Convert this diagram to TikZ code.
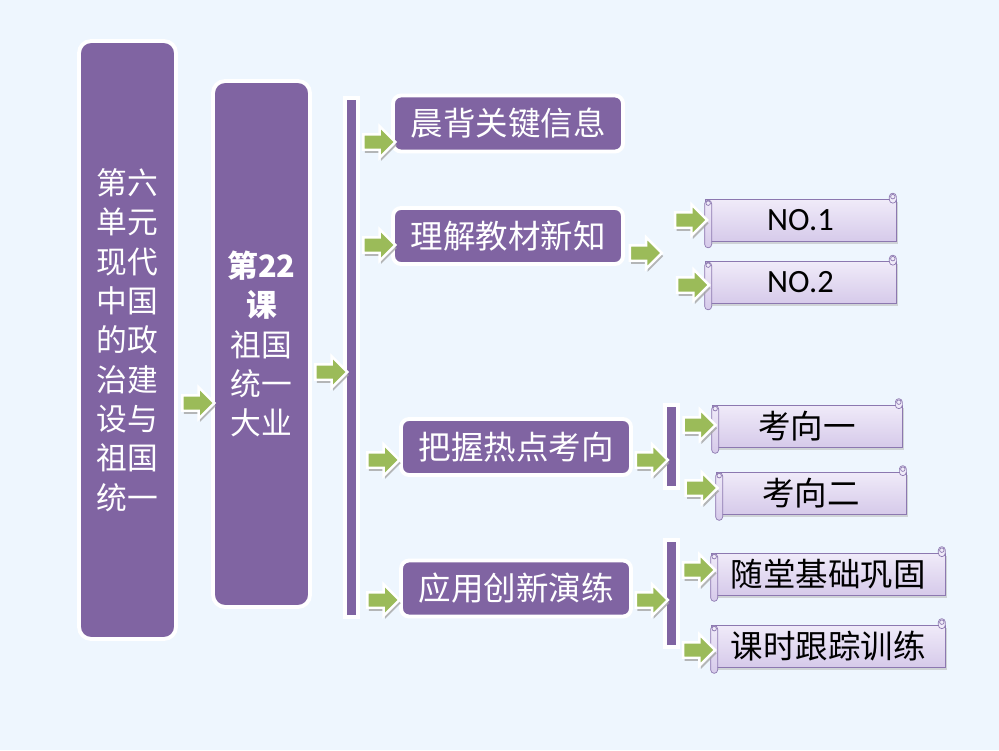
\documentclass[tikz,border=0pt]{standalone}
\usepackage{fontspec}
\usetikzlibrary{positioning,calc,shapes.arrows,shadows}
\newfontfamily\cjk{Noto Sans CJK SC}
\newfontfamily\cali{Carlito}
\definecolor{pagebg}{RGB}{238,246,254}
\definecolor{unitpurple}{RGB}{128,100,162}
\definecolor{arrowgreen}{RGB}{155,187,89}
\definecolor{scrolltop}{RGB}{240,235,249}
\definecolor{scrollbot}{RGB}{214,202,234}
\definecolor{scrolledge}{RGB}{140,120,176}

% rolled ends of a scroll node
\newcommand\scrollends[1]{%
  \draw[scrolledge, top color=scrolltop, bottom color=scrollbot, rounded corners=0.07cm]
    ($(#1.north west)+(0,1)$) rectangle ($(#1.south west)+(7,6)$);
  \draw[scrolledge, fill=scrolltop] ($(#1.north west)+(3.5,4)$) circle (0.045cm);
  \draw[scrolledge, fill=scrolltop, rounded corners=0.07cm]
    ($(#1.north east)+(-7,4)$) rectangle ($(#1.north east)+(0,-6)$);
  \draw[scrolledge, fill=scrolltop] ($(#1.north east)+(-3.5,-2.5)$) circle (0.045cm);}

\tikzset{
  unitbox/.style={rectangle, rounded corners=0.24cm, fill=unitpurple, draw=white,
    line width=2.2pt, text=white, align=center, minimum width=1.94cm,
    font=\cjk\fontsize{17.5}{22.4}\selectfont},
  headbox/.style={rectangle, rounded corners=0.16cm, fill=unitpurple, draw=white,
    line width=2.2pt, text=white, minimum width=4.6cm, minimum height=1.12cm,
    font=\cjk\fontsize{18.5}{22}\selectfont},
  stembar/.style={rectangle, fill=unitpurple, draw=white, line width=2.2pt,
    minimum width=0.26cm, inner sep=0pt},
  scrollbox/.style={rectangle, draw=scrolledge, top color=scrolltop, bottom color=scrollbot,
    inner sep=0pt, minimum height=0.84cm, font=\cjk\fontsize{18.5}{22}\selectfont,
    drop shadow={shadow xshift=1pt, shadow yshift=-1.5pt, fill=gray!60, opacity=.5}},
  garrow/.style={single arrow, fill=arrowgreen, draw=white, line width=1.4pt,
    inner sep=0.13cm, single arrow head extend=0.16cm, minimum height=0.64cm,
    drop shadow={shadow xshift=0.8pt, shadow yshift=-1.8pt, fill=gray!70, opacity=.8}}
}

\begin{document}
\begin{tikzpicture}[x=0.02cm, y=-0.02cm]
\path[use as bounding box, fill=pagebg] (0,0) rectangle (999,750);

\node (unit) [unitbox, minimum height=11.96cm] at (127.5,340)
  {第六\\单元\\现代\\中国\\的政\\治建\\设与\\祖国\\统一};
\node (lesson) [unitbox, minimum height=10.52cm] at (261.5,344)
  {{\bfseries 第22}\\{\bfseries 课}\\祖国\\统一\\大业};
\node (spine) [stembar, minimum height=10.38cm] at (351.5,357.5) {};

\node (recite) [headbox] at (508,123.5) {晨背关键信息};
\node (newknow) [headbox] at (508,236) {理解教材新知};
\node (hotspot) [headbox] at (516,447) {把握热点考向};
\node (apply) [headbox] at (516,588.5) {应用创新演练};

\node (branchA) [stembar, minimum height=1.66cm] at (671.5,446.5) {};
\node (branchB) [stembar, minimum height=2.14cm] at (671.5,593.5) {};

\node (noone) [scrollbox, minimum width=3.82cm] at (800.5,220.5) {\cali NO.1};
\node (notwo) [scrollbox, minimum width=3.82cm] at (800.5,282.5) {\cali NO.2};
\node (kxone) [scrollbox, minimum width=3.8cm] at (807,426) {考向一};
\node (kxtwo) [scrollbox, minimum width=3.8cm] at (811,493) {考向二};
\node (drill) [scrollbox, minimum width=4.68cm] at (828,574) {随堂基础巩固};
\node (after) [scrollbox, minimum width=4.68cm] at (828,646) {课时跟踪训练};
\foreach \s in {noone,notwo,kxone,kxtwo,drill,after} {\scrollends{\s}}

% free ends of the NO arrows
\coordinate (knowout) at (659,253);
\coordinate (noinA) at (670,220);
\coordinate (noinB) at (674,285);

\path (unit.east |- 0,403) -- node[garrow] {} (lesson.west |- 0,403);
\path (lesson.east |- 0,372) -- node[garrow] {} (spine.west |- 0,372);
\path (spine.east |- 0,142) -- node[garrow] {} (recite.west |- 0,142);
\path (spine.east |- 0,245) -- node[garrow] {} (newknow.west |- 0,245);
\path (spine.east |- 0,460) -- node[garrow] {} (hotspot.west |- 0,460);
\path (spine.east |- 0,600) -- node[garrow] {} (apply.west |- 0,600);
\path (newknow.east |- 0,253) -- node[garrow] {} (knowout);
\path (noinA) -- node[garrow] {} (noone.west |- noinA);
\path (noinB) -- node[garrow] {} (notwo.west |- noinB);
\path (hotspot.east |- 0,460) -- node[garrow] {} (branchA.west |- 0,460);
\path (branchA.east |- 0,425) -- node[garrow] {} (kxone.west |- 0,425);
\path (branchA.east |- 0,488) -- node[garrow] {} (kxtwo.west |- 0,488);
\path (apply.east |- 0,600) -- node[garrow] {} (branchB.west |- 0,600);
\path (branchB.east |- 0,570) -- node[garrow] {} (drill.west |- 0,570);
\path (branchB.east |- 0,650) -- node[garrow] {} (after.west |- 0,650);
\end{tikzpicture}
\end{document}
